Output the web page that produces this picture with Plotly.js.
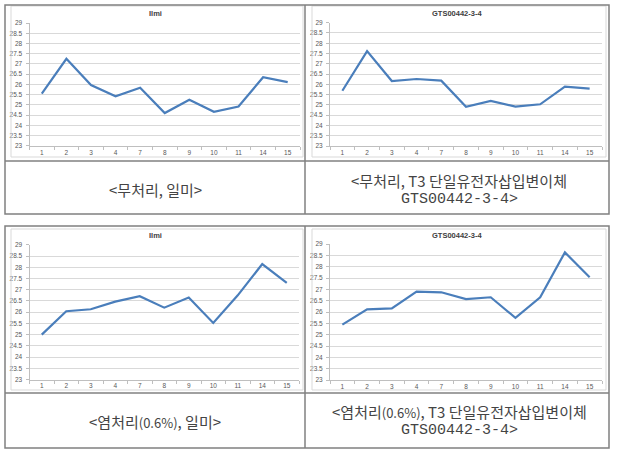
<!DOCTYPE html>
<html>
<head>
<meta charset="utf-8">
<script src="https://cdn.plot.ly/plotly-3.0.1.min.js"></script>
<style>
  html, body { margin: 0; padding: 0; background: #fff; }
  #chart { width: 618px; height: 456px; }
</style>
</head>
<body>
<div id="chart"></div>
<script>
// sample numbers on the x axis
const categories = ['1', '2', '3', '4', '7', '8', '9', '10', '11', '14', '15'];

// values
const ctrlIlmi = [25.55, 27.25, 25.97, 25.42, 25.84, 24.60, 25.25, 24.66, 24.92, 26.35, 26.11];
const ctrlGts = [25.69, 27.62, 26.16, 26.26, 26.18, 24.91, 25.19, 24.92, 25.03, 25.89, 25.79];
const saltIlmi = [25.00, 26.04, 26.13, 26.47, 26.71, 26.20, 26.65, 25.52, 26.75, 28.14, 27.30];
const saltGts = [25.44, 26.12, 26.16, 26.90, 26.87, 26.57, 26.65, 25.74, 26.65, 28.63, 27.53];

const panelTitles = ['Ilmi', 'GTS00442-3-4', 'Ilmi', 'GTS00442-3-4'];

// caption lines, one list per cell (latin runs get a monospaced face like the original)
const mono = (s) => '<span style="font-family:\'Liberation Mono\', monospace">' + s + '</span>';
const pct = '<span style="font-size:13px">(0.6%)</span>';
const captions = [
    ['&lt;무처리, 일미&gt;'],
    ['&lt;무처리, T3 단일유전자삽입변이체', mono('GTS00442-3-4&gt;')],
    ['&lt;염처리' + pct + ', 일미&gt;'],
    ['&lt;염처리' + pct + ', T3 단일유전자삽입변이체', mono('GTS00442-3-4&gt;')]
];

const W = 618, H = 456;
const px = (x) => x / W;
const py = (y) => 1 - y / H;

const lineColor = '#4a7ebb';
const tickFont = { family: 'Liberation Sans, Arial, sans-serif', size: 6.5, color: '#595959' };

// plot areas in page pixels: [left, right, top, bottom]
const areas = [
    [29.5, 300, 23, 145.8],
    [330, 602, 22.7, 146],
    [29.5, 299, 244.8, 379.5],
    [330, 602, 244, 380]
];
const series = [ctrlIlmi, ctrlGts, saltIlmi, saltGts];

const traces = series.map((vals, i) => ({
    x: categories,
    y: vals,
    type: 'scatter',
    mode: 'lines',
    line: { color: lineColor, width: 2.2 },
    xaxis: i === 0 ? 'x' : 'x' + (i + 1),
    yaxis: i === 0 ? 'y' : 'y' + (i + 1),
    hoverinfo: 'skip',
    showlegend: false
}));

const layout = {
    width: W,
    height: H,
    margin: { l: 0, r: 0, t: 0, b: 0 },
    paper_bgcolor: '#ffffff',
    plot_bgcolor: 'rgba(0,0,0,0)',
    showlegend: false,
    shapes: [],
    annotations: []
};

areas.forEach((a, i) => {
    const n = i === 0 ? '' : String(i + 1);
    layout['xaxis' + n] = {
        domain: [px(a[0]), px(a[1])],
        anchor: 'y' + n,
        type: 'category',
        range: [-0.5, categories.length - 0.5],
        showgrid: false,
        showline: true,
        linecolor: '#bfbfbf',
        linewidth: 1,
        ticks: 'outside',
        tickson: 'boundaries',
        ticklen: 3,
        tickcolor: '#bfbfbf',
        tickfont: tickFont,
        fixedrange: true
    };
    layout['yaxis' + n] = {
        domain: [py(a[3]), py(a[2])],
        anchor: 'x' + n,
        range: [23, 29],
        dtick: 0.5,
        showgrid: true,
        gridcolor: '#d9d9d9',
        gridwidth: 1,
        zeroline: false,
        showline: true,
        linecolor: '#bfbfbf',
        ticks: 'outside',
        ticklen: 3,
        tickcolor: '#bfbfbf',
        tickfont: tickFont,
        ticklabelstandoff: 2,
        fixedrange: true
    };
    // chart title
    layout.annotations.push({
        xref: 'paper', yref: 'paper',
        x: px(i % 2 === 0 ? 155 : 457),
        y: py(i < 2 ? 14 : 235.5),
        text: '<b>' + panelTitles[i] + '</b>',
        showarrow: false,
        xanchor: 'center', yanchor: 'middle',
        font: { family: 'Liberation Sans, Arial, sans-serif', size: 7.5, color: '#404040' }
    });
});

// light chart frames inside each cell
const frames = [
    [11, 303, 6, 157],
    [312, 606, 6, 157],
    [11, 303, 229, 390],
    [312, 606, 229, 390]
];
frames.forEach((f) => {
    layout.shapes.push({
        type: 'rect', xref: 'paper', yref: 'paper',
        x0: px(f[0]), x1: px(f[1]), y0: py(f[3]), y1: py(f[2]),
        line: { color: '#d9d9d9', width: 1 }
    });
});

// table borders
const tables = [
    { top: 5, mid: 161, bottom: 214 },
    { top: 226, mid: 393, bottom: 448 }
];
const border = { color: '#808080', width: 1.5 };
tables.forEach((t) => {
    layout.shapes.push({
        type: 'rect', xref: 'paper', yref: 'paper',
        x0: px(5), x1: px(609), y0: py(t.bottom), y1: py(t.top),
        line: border
    });
    layout.shapes.push({
        type: 'line', xref: 'paper', yref: 'paper',
        x0: px(5), x1: px(609), y0: py(t.mid), y1: py(t.mid),
        line: border
    });
    layout.shapes.push({
        type: 'line', xref: 'paper', yref: 'paper',
        x0: px(305), x1: px(305), y0: py(t.bottom), y1: py(t.top),
        line: border
    });
});

// captions below each chart, one annotation per line
const capX = [155, 459, 155, 459];
const capY = [[189.5], [180, 199.5], [421], [411, 430.5]];
captions.forEach((lines, i) => {
    lines.forEach((txt, j) => {
        layout.annotations.push({
            xref: 'paper', yref: 'paper',
            x: px(capX[i]), y: py(capY[i][j]),
            text: txt,
            showarrow: false,
            xanchor: 'center', yanchor: 'middle',
            font: { family: '"Noto Sans CJK KR", sans-serif', size: 15, color: '#444444' }
        });
    });
});

Plotly.newPlot('chart', traces, layout, { staticPlot: true, displayModeBar: false });
</script>
</body>
</html>
